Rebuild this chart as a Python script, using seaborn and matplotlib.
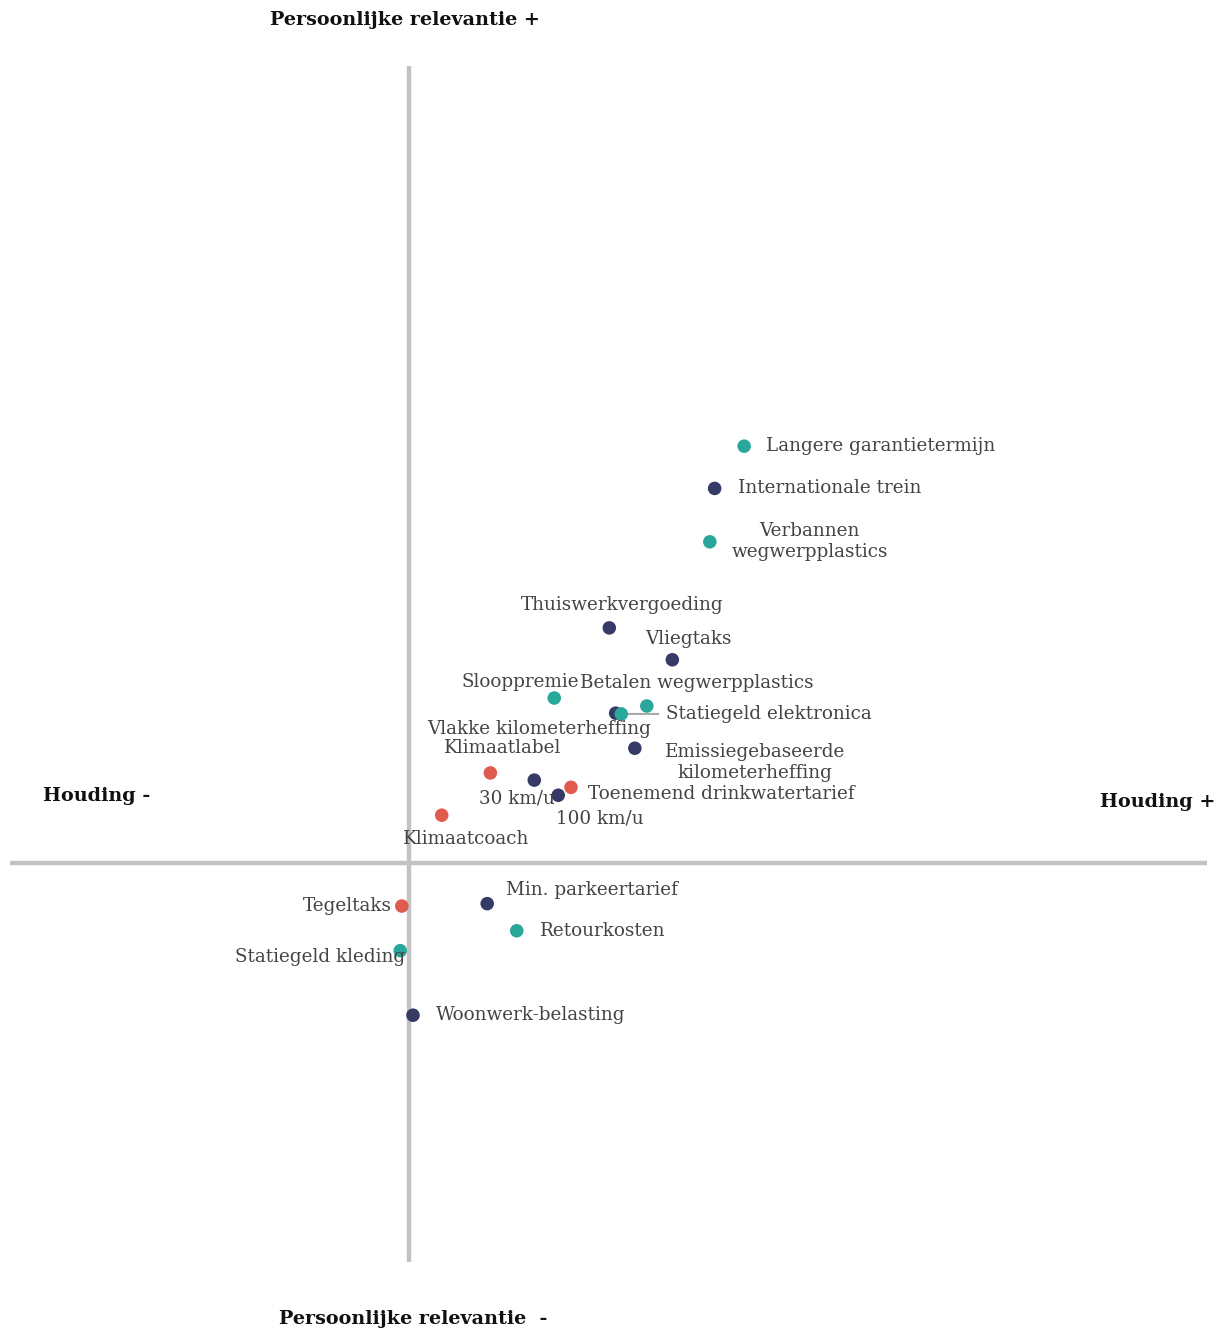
import numpy as np
import pandas as pd
import seaborn as sns
import matplotlib.pyplot as plt

# maatregelen: houding (x) en persoonlijke relevantie (y)
labels = ['Langere garantietermijn', 'Internationale trein', 'Verbannen\nwegwerpplastics',
          'Thuiswerkvergoeding', 'Vliegtaks', 'Slooppremie', 'Betalen wegwerpplastics',
          'Vlakke kilometerheffing', 'Statiegeld elektronica', 'Emissiegebaseerde\nkilometerheffing',
          'Klimaatlabel', '30 km/u', 'Toenemend drinkwatertarief', '100 km/u', 'Klimaatcoach',
          'Min. parkeertarief', 'Tegeltaks', 'Retourkosten', 'Statiegeld kleding', 'Woonwerk-belasting']
houding = [0.420, 0.383, 0.377, 0.251, 0.330, 0.182, 0.298, 0.259, 0.266, 0.283,
           0.102, 0.157, 0.203, 0.187, 0.041, 0.098, -0.009, 0.135, -0.011, 0.005]
relevantie = [0.523, 0.470, 0.403, 0.295, 0.255, 0.207, 0.197, 0.188, 0.187, 0.144,
              0.113, 0.104, 0.095, 0.085, 0.060, -0.051, -0.054, -0.085, -0.110, -0.191]
groep = ['Consumptie', 'Mobiliteit', 'Consumptie', 'Mobiliteit', 'Mobiliteit', 'Consumptie',
         'Consumptie', 'Mobiliteit', 'Consumptie', 'Mobiliteit', 'Wonen', 'Mobiliteit', 'Wonen',
         'Mobiliteit', 'Wonen', 'Mobiliteit', 'Wonen', 'Consumptie', 'Consumptie', 'Mobiliteit']

df = pd.DataFrame({'label': labels, 'x': houding, 'y': relevantie, 'groep': groep})
kleuren = {'Mobiliteit': '#363a66', 'Consumptie': '#2aa79b', 'Wonen': '#e05a4e'}

# label offsets in pixels (dx, dy, ha)
plaats = {
    'Langere garantietermijn': (22, 0, 'left'),
    'Internationale trein': (23, 0, 'left'),
    'Verbannen\nwegwerpplastics': (100, 0, 'center'),
    'Thuiswerkvergoeding': (13, 23, 'center'),
    'Vliegtaks': (16, 21, 'center'),
    'Slooppremie': (-34, 16, 'center'),
    'Betalen wegwerpplastics': (50, 23, 'center'),
    'Vlakke kilometerheffing': (-77, -16, 'center'),
    'Statiegeld elektronica': (45, 0, 'left'),
    'Emissiegebaseerde\nkilometerheffing': (120, -14, 'center'),
    'Klimaatlabel': (12, 25, 'center'),
    '30 km/u': (-17, -18, 'center'),
    'Toenemend drinkwatertarief': (17, -7, 'left'),
    '100 km/u': (42, -23, 'center'),
    'Klimaatcoach': (24, -24, 'center'),
    'Min. parkeertarief': (19, 14, 'left'),
    'Tegeltaks': (-10, 0, 'right'),
    'Retourkosten': (23, 0, 'left'),
    'Statiegeld kleding': (5, -6, 'right'),
    'Woonwerk-belasting': (23, 0, 'left'),
}

sns.set_style('white')
plt.rcParams['font.family'] = ['DejaVu Serif']

fig = plt.figure(figsize=(12.3, 13.32), dpi=100)
ax = fig.add_axes([0, 0, 1, 1])
ax.set_xlim(-409 / 798, 821 / 798)
ax.set_ylim(-469 / 797, 863 / 797)
ax.axis('off')

ax.plot([-0.5, 1.0], [0, 0], color='#c2c2c2', lw=3.2, solid_capstyle='butt', zorder=1)
ax.plot([0, 0], [-0.5, 1.0], color='#c2c2c2', lw=3.2, solid_capstyle='butt', zorder=1)

sns.scatterplot(data=df, x='x', y='y', hue='groep', palette=kleuren, s=95,
                edgecolor='none', legend=False, ax=ax, zorder=3)

for _, r in df.iterrows():
    dx, dy, ha = plaats[r['label']]
    ax.annotate(r['label'], (r['x'], r['y']), xytext=(dx, dy), textcoords='offset pixels',
                ha=ha, va='center', fontsize=13.2, color='#444444', linespacing=1.2, zorder=4)

# verbindingslijn voor Statiegeld elektronica
se = df[df['label'] == 'Statiegeld elektronica'].iloc[0]
ax.annotate('', (se['x'], se['y']), xytext=(40, 0), textcoords='offset pixels',
            arrowprops=dict(arrowstyle='-', color='#aaaaaa', lw=1.5), zorder=2)

titel = dict(fontsize=13.8, fontweight='bold', color='#111111')
fig.text(405 / 1230, 1 - 20 / 1332, 'Persoonlijke relevantie +', ha='center', va='center', **titel)
fig.text(413 / 1230, 1 - 1319 / 1332, 'Persoonlijke relevantie  -', ha='center', va='center', **titel)
fig.text(43 / 1230, 1 - 796 / 1332, 'Houding -', ha='left', va='center', **titel)
fig.text(1215 / 1230, 1 - 802 / 1332, 'Houding +', ha='right', va='center', **titel)

fig.savefig('out.png', dpi=100, facecolor='white')
